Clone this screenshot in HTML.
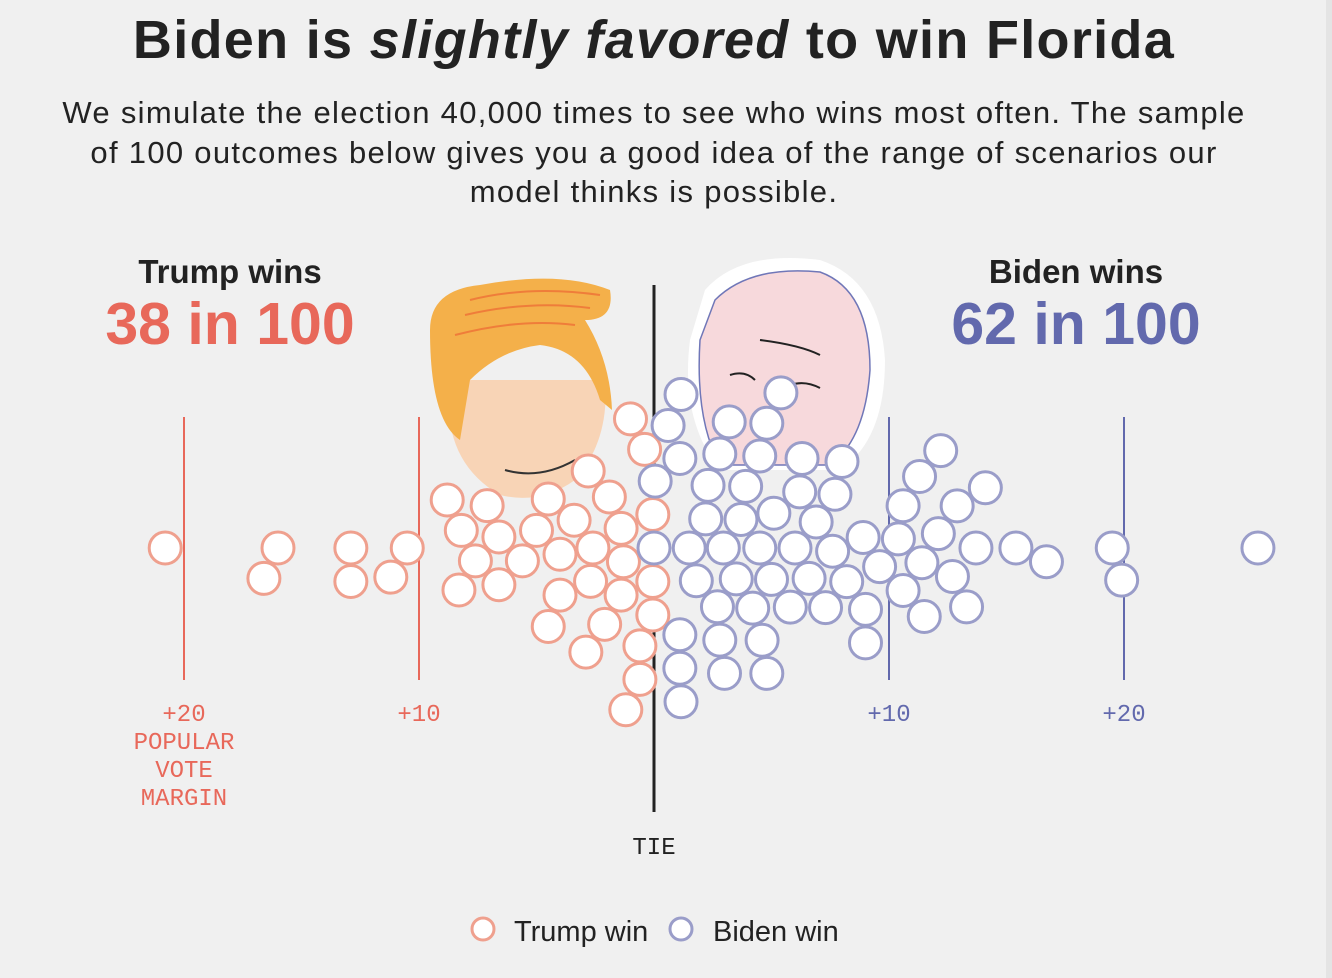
<!DOCTYPE html>
<html><head><meta charset="utf-8"><style>
body{margin:0;background:#f0f0f0;width:1332px;height:978px;overflow:hidden;font-family:"Liberation Sans",sans-serif;}
svg{position:absolute;left:0;top:0}
</style></head><body>
<svg width="1332" height="978">
<rect x="1326" y="0" width="6" height="978" fill="#e4e4e4"/>
<text x="654" y="58" text-anchor="middle" font-size="54" font-weight="bold" letter-spacing="1.3" fill="#222">Biden is <tspan font-style="italic">slightly favored</tspan> to win Florida</text>
<g font-size="31" letter-spacing="1.3" fill="#222" text-anchor="middle">
<text x="654" y="123">We simulate the election 40,000 times to see who wins most often. The sample</text>
<text x="654" y="163">of 100 outcomes below gives you a good idea of the range of scenarios our</text>
<text x="654" y="202">model thinks is possible.</text></g>
<text x="230" y="283" text-anchor="middle" font-size="33" font-weight="bold" fill="#222">Trump wins</text>
<text x="230" y="344" text-anchor="middle" font-size="59" font-weight="bold" fill="#e8685a">38 in 100</text>
<text x="1076" y="283" text-anchor="middle" font-size="33" font-weight="bold" fill="#222">Biden wins</text>
<text x="1076" y="344" text-anchor="middle" font-size="59" font-weight="bold" fill="#6269ad">62 in 100</text>
<g>
<path d="M450 380 Q440 460 500 495 Q540 505 575 480 Q610 440 605 380 Z" fill="#f8d4b6"/>
<path d="M430 330 Q430 290 480 285 Q560 270 610 290 Q615 320 585 320 Q610 360 612 410 L600 400 Q585 350 540 345 Q500 350 470 380 L460 440 Q430 420 430 330 Z" fill="#f4b04a"/>
<path d="M470 300 Q530 285 600 295 M465 315 Q530 300 590 308 M455 335 Q520 318 575 325" stroke="#ef7d3a" stroke-width="2" fill="none"/>
<path d="M505 470 Q540 480 575 460" stroke="#333" stroke-width="2" fill="none"/>
</g>
<g>
<path d="M705 290 Q740 250 820 260 Q880 280 885 360 Q885 440 840 470 L720 470 Q680 420 690 340 Z" fill="#fff"/>
<path d="M715 300 Q750 265 820 272 Q870 290 870 370 Q865 440 830 465 L720 465 Q695 420 700 340 Z" fill="#f7d9dc" stroke="#7077b8" stroke-width="1.5"/>
<path d="M760 340 Q800 345 820 355 M730 375 Q745 370 755 380 M790 385 Q805 380 820 388" stroke="#222" stroke-width="2" fill="none"/>
</g>
<g id="axis"></g>
<g id="dots"></g>
<g>
<circle cx="483" cy="929" r="11" fill="#fff" stroke="#efa08e" stroke-width="3"/>
<text x="514" y="941" font-size="29" fill="#222">Trump win</text>
<circle cx="681" cy="929" r="11" fill="#fff" stroke="#9a9dc9" stroke-width="3"/>
<text x="713" y="941" font-size="29" fill="#222">Biden win</text>
</g>
</svg>
<script>
const trumpMargins=[-20.8,-16.0,-16.6,-12.9,-12.9,-10.5,-11.2,-8.2,-8.8,-8.3,-7.6,-6.6,-7.1,-6.6,-5.6,-5.0,-4.5,-4.0,-4.5,-4.0,-3.4,-2.7,-2.1,-2.9,-2.6,-2.8,-1.9,-1.3,-0.6,-1.0,-1.4,-1.2,-1.4,-0.4,-0.05,-0.05,-0.05,-0.6];
const bidenMargins=[0.6,1.1,0.0,1.1,1.15,1.1,0.05,1.5,1.8,1.15,2.2,2.3,2.8,2.7,2.8,3.2,2.95,3.0,3.5,3.9,4.5,3.7,4.2,4.8,4.6,4.5,4.8,5.0,5.4,6.0,5.1,5.8,6.2,6.3,6.9,7.6,6.6,7.3,7.7,8.0,8.9,8.2,9.0,9.0,10.4,9.6,10.6,10.6,11.3,12.1,11.4,12.2,11.5,12.7,13.7,12.9,14.1,13.3,15.4,16.7,19.5,19.9,25.7];
const xTicks=[-20,-10,10,20];
const tickLabels=["+20","+10","+10","+20"];
const NS="http://www.w3.org/2000/svg";
const x0=654,pxPer=23.5,cy=548,R=16,D=33.5;
const xScale=v=>x0+v*pxPer;
function mk(t,a,p){const e=document.createElementNS(NS,t);for(const k in a)e.setAttribute(k,a[k]);p.appendChild(e);return e;}
const axis=document.getElementById('axis');
xTicks.forEach((t,i)=>{
 const c=t<0?"#e8685a":"#6269ad";
 const l=mk('line',{x1:xScale(t),x2:xScale(t),y1:417,y2:680,stroke:c,'stroke-width':2},axis);
 
 
 const tx=mk('text',{x:xScale(t),y:721,'text-anchor':'middle','font-size':24,'font-family':'Liberation Mono, monospace',fill:c},axis);
 tx.textContent=tickLabels[i];
 
 
});
["POPULAR","VOTE","MARGIN"].forEach((w,i)=>{
 const tx=mk('text',{x:xScale(-20),y:749+i*28,'text-anchor':'middle','font-size':24,'font-family':'Liberation Mono, monospace',fill:'#e8685a'},axis);
 tx.textContent=w;
 
 
});
const tl=mk('line',{x1:x0,x2:x0,y1:285,y2:812,stroke:'#222','stroke-width':3},axis);


const tt=mk('text',{x:x0,y:854,'text-anchor':'middle','font-size':24,'font-family':'Liberation Mono, monospace',fill:'#222'},axis);
tt.textContent="TIE";


const pts=trumpMargins.map(m=>({m,c:'#efa08e'})).concat(bidenMargins.map(m=>({m,c:'#9a9dc9'})));
pts.forEach(p=>p.x=xScale(p.m));
const order=pts.slice().sort((a,b)=>Math.abs(a.m)-Math.abs(b.m));
const placed=[];
order.forEach(p=>{
 const cands=[0];
 placed.forEach(q=>{const dx=p.x-q.x;if(Math.abs(dx)<D){const h=Math.sqrt(D*D-dx*dx);cands.push(q.y+h,q.y-h);}});
 cands.sort((a,b)=>Math.abs(a)-Math.abs(b));
 for(const y of cands){
  if(placed.every(q=>(q.x-p.x)**2+(q.y-y)**2>=D*D-0.01)){p.y=y;break;}
 }
 placed.push(p);
});
const g=document.getElementById('dots');
pts.forEach((p,i)=>{
 const c=mk('circle',{cx:p.x,cy:cy+p.y,r:R,fill:'#fff',stroke:p.c,'stroke-width':3},g);
 
 
});
</script>
</body></html>
